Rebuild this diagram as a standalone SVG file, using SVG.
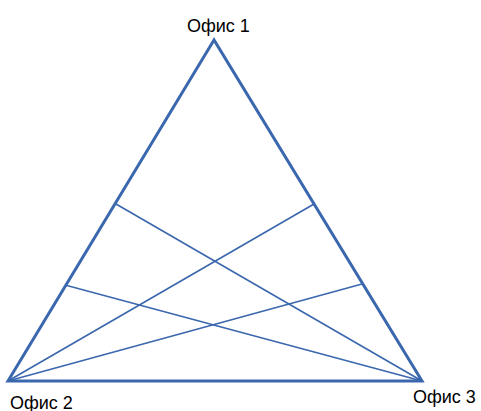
<svg xmlns="http://www.w3.org/2000/svg" width="481" height="411" viewBox="0 0 481 411">
<style>
.lbl{font-family:"Liberation Sans",Arial,sans-serif;font-size:18px;fill:#000}
.tri{fill:none;stroke:#3a67ae;stroke-width:3;stroke-linejoin:miter}
.ln{stroke:#3a67ae;stroke-width:1.6;fill:none}
</style>
<rect width="481" height="411" fill="#fff"/>
<g id="connectors">
<polygon class="tri" points="214,40 8,381 422,381"/>
<line class="ln" x1="8" y1="381" x2="314" y2="204"/>
<line class="ln" x1="8" y1="381" x2="362" y2="284"/>
<line class="ln" x1="422" y1="381" x2="116" y2="204"/>
<line class="ln" x1="422" y1="381" x2="65" y2="285"/>
</g>
<g id="office1"><text class="lbl" x="187" y="32">Офис 1</text></g>
<g id="office2"><text class="lbl" x="10" y="409">Офис 2</text></g>
<g id="office3"><text class="lbl" x="413" y="403">Офис 3</text></g>
</svg>
